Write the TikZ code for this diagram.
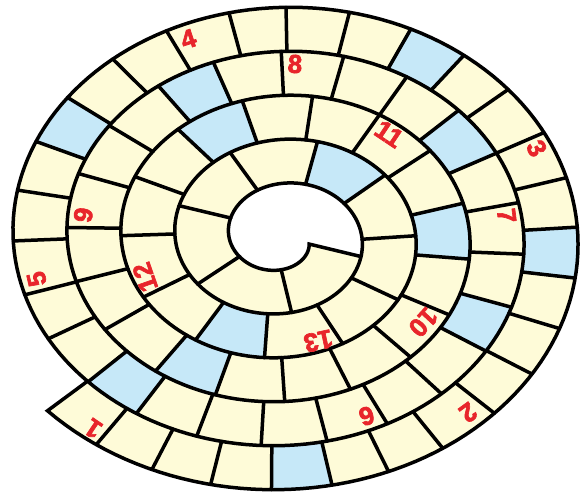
\documentclass[tikz,border=0pt]{standalone}
\usepackage{fontspec}
\newfontfamily\labfont{Liberation Sans Bold}[FakeBold=2.5]
\definecolor{cellyellow}{RGB}{254,251,216}
\definecolor{cellblue}{RGB}{198,232,248}
\definecolor{labred}{RGB}{232,37,43}
\newcommand\mkdiv[2]{%
  \pgfmathsetmacro\dvrc{5.98-#1/360}%
  \pgfmathsetmacro\dvL{sqrt(\dvrc*\dvrc+0.02533)}%
  \pgfmathsetmacro\dvqr{0.5*\dvrc/\dvL}%
  \pgfmathsetmacro\dvqt{0.5*0.159155/\dvL}%
  \coordinate (#2o) at ({282+54*((\dvrc+\dvqr)*cos(#1)-\dvqt*sin(#1))},{256.5+44*((\dvrc+\dvqr)*sin(#1)+\dvqt*cos(#1))});%
  \coordinate (#2i) at ({282+54*((\dvrc-\dvqr)*cos(#1)+\dvqt*sin(#1))},{256.5+44*((\dvrc-\dvqr)*sin(#1)-\dvqt*cos(#1))});%
}
\begin{document}
\begin{tikzpicture}[x=1pt,y=1pt,
  declare function={
    rout(\t)=6.48-\t/360;
    rin(\t)=5.48-\t/360;
    sx(\t,\r)=282+54*\r*cos(\t);
    sy(\t,\r)=256.5+44*\r*sin(\t);
  },
  edge/.style={line width=3.5pt, line join=miter, line cap=round},
  divider/.style={line width=3.5pt, line cap=round},
  lab/.style={text=labred, font=\labfont\fontsize{26}{26}\selectfont, inner sep=0pt}
]
\useasboundingbox (0,0) rectangle (580,494);
% strip
\fill[cellyellow] plot[domain=222.2:1783.5, samples=700, variable=\t] ({sx(\t,rout(\t))},{sy(\t,rout(\t))})
  -- plot[domain=1783.5:222.2, samples=700, variable=\t] ({sx(\t,rin(\t))},{sy(\t,rin(\t))}) -- cycle;
% blue cells
\foreach \a/\b in {267.9/279.2, 350.2/362.3, 410.7/423.1, 501.1/514.2, 582.2/595.8, 685.4/699.3, 745.5/761.2, 827.4/843.3, 952.0/970.6, 1071.5/1092.6, 1182.8/1207.5, 1314.8/1342.5, 1475.6/1512.1}{
  \mkdiv{\a}{A}\mkdiv{\b}{B}
  \fill[cellblue] (Ao) -- plot[domain=\a:\b, samples=12, variable=\t] ({sx(\t,rout(\t))},{sy(\t,rout(\t))}) -- (Bo) -- (Bi)
    -- plot[domain=\b:\a, samples=12, variable=\t] ({sx(\t,rin(\t))},{sy(\t,rin(\t))}) -- (Ai) -- cycle;
}
% dividers
\foreach \d in {233.7, 245.3, 256.6, 267.9, 279.2, 290.2, 301.7, 314.4, 326.0, 337.9, 350.2, 362.3, 374.3, 386.0, 398.6, 410.7, 423.1, 436.1, 449.0, 460.7, 474.3, 487.5, 501.1, 514.2, 527.4, 540.7, 555.1, 567.8, 582.2, 595.8, 610.5, 625.1, 640.0, 654.5, 669.5, 685.4, 699.3, 714.9, 730.0, 745.5, 761.2, 777.4, 794.2, 809.9, 827.4, 843.3, 861.2, 878.6, 896.4, 914.4, 932.2, 952.0, 970.6, 990.4, 1009.8, 1030.8, 1050.0, 1071.5, 1092.6, 1115.3, 1136.6, 1159.5, 1182.8, 1207.5, 1232.5, 1258.6, 1287.2, 1314.8, 1342.5, 1374.2, 1405.8, 1440.0, 1475.6, 1512.1, 1555.2, 1597.8, 1652.4, 1713.8}{
  \mkdiv{\d}{D}
  \draw[divider] (Do) -- (Di);
}
% outline
\coordinate (startin) at ({sx(222.2,rin(222.2))},{sy(222.2,rin(222.2))});
\draw[edge] (startin) -- plot[domain=222.2:1783.5, samples=700, variable=\t] ({sx(\t,rout(\t))},{sy(\t,rout(\t))})
  -- plot[domain=1783.5:1423.5, samples=200, variable=\t] ({sx(\t,rin(\t))},{sy(\t,rin(\t))});
% labels
\node[lab, rotate=146] (l1) at (93.3,65.3) {1};
\node[lab, rotate=-144] (l2) at (468.3,81.3) {2};
\node[lab, rotate=-63] (l3) at (536.7,345.7) {3};
\node[lab, rotate=18] (l4) at (188.3,455) {4};
\node[lab, rotate=102.8] (l5) at (36.7,215) {5};
\node[lab, rotate=-162.7] (l6) at (366.7,78) {6};
\node[lab, rotate=-82.7] (l7) at (506.7,278.3) {7};
\node[lab, rotate=-3] (l8) at (295,430) {8};
\node[lab, rotate=80.5] (l9) at (83.3,279) {9};
\node[lab, rotate=-132.7] (l10) at (423.3,171.7) {10};
\node[lab, rotate=-33.8] (l11) at (389,360) {11};
\node[lab, rotate=109.4] (l12) at (145,216.7) {12};
\node[lab, rotate=-167.9] (l13) at (318.3,153) {13};
\end{tikzpicture}
\end{document}
